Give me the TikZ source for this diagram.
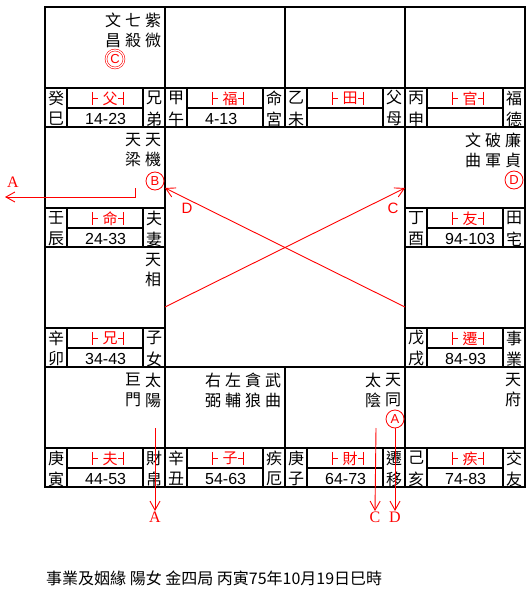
\documentclass[tikz,border=0pt]{standalone}
\usepackage{fontspec}
\setmainfont{Liberation Sans}
\newfontfamily\cjk{Noto Sans CJK TC}
\newfontfamily\latinserif{Liberation Serif}
\usetikzlibrary{arrows.meta,positioning,calc}
\definecolor{chartred}{RGB}{255,0,0}

\begin{document}
\begin{tikzpicture}[x=1pt, y=-1pt,
    gridline/.style={line width=2.6pt, line cap=rect},
    infoline/.style={line width=2pt},
    cjktext/.style={font=\cjk\fontsize{16}{16}\selectfont, inner sep=0pt},
    stars/.style={font=\cjk\fontsize{16}{20}\selectfont, align=center, anchor=north, inner sep=0pt},
    palname/.style={font=\cjk\fontsize{15}{15}\selectfont, text=chartred, inner sep=0pt},
    palbar/.style={draw=chartred, line width=1pt},
    agetext/.style={font=\fontsize{16}{16}\selectfont, anchor=west, inner sep=0pt},
    circled/.style={circle, draw=chartred, line width=0.8pt, text=chartred,
        minimum size=18pt, inner sep=0pt, font=\fontsize{13}{13}\selectfont},
    tagline/.style={draw=chartred, line width=0.9pt, -{Straight Barb[length=9pt, width=10pt]}},
    tagserif/.style={font=\latinserif\fontsize{16}{16}\selectfont, text=chartred, inner sep=1pt, anchor=north},
    tagsans/.style={font=\fontsize{15}{15}\selectfont, text=chartred, inner sep=0pt}
]
    \useasboundingbox (0,0) rectangle (531,599);

    % palace grid
    \draw[gridline] (45,7) rectangle (525,487);
    \draw[gridline] (165,7) -- (165,487);
    \draw[gridline] (405,7) -- (405,487);
    \draw[gridline] (285,7) -- (285,127);
    \draw[gridline] (285,367) -- (285,487);
    \draw[gridline] (45,127) -- (525,127);
    \draw[gridline] (45,367) -- (525,367);
    \draw[gridline] (45,247) -- (165,247);
    \draw[gridline] (405,247) -- (525,247);

    % bottom strip of each palace
    \foreach \cx/\cy/\stem/\branch/\pal/\age/\pa/\pb/\id in {
        45/7/癸/巳/父/14-23/兄/弟/si, 165/7/甲/午/福/4-13/命/宮/wu,
        285/7/乙/未/田//父/母/wei, 405/7/丙/申/官//福/德/shen,
        45/127/壬/辰/命/24-33/夫/妻/chen, 405/127/丁/酉/友/94-103/田/宅/you,
        45/247/辛/卯/兄/34-43/子/女/mao, 405/247/戊/戌/遷/84-93/事/業/xu,
        45/367/庚/寅/夫/44-53/財/帛/yin, 165/367/辛/丑/子/54-63/疾/厄/chou,
        285/367/庚/子/財/64-73/遷/移/zi, 405/367/己/亥/疾/74-83/交/友/hai} {
        \draw[infoline] (\cx,\cy+81) -- (\cx+120,\cy+81);
        \draw[infoline] (\cx+22,\cy+81) -- (\cx+22,\cy+120);
        \draw[infoline] (\cx+98,\cy+81) -- (\cx+98,\cy+120);
        \draw[infoline] (\cx+22,\cy+101) -- (\cx+98,\cy+101);
        \node[cjktext] (\id-stem) at (\cx+11,\cy+91) {\stem};
        \node[cjktext] (\id-branch) at (\cx+11,\cy+112) {\branch};
        \node[palname] (\id-pal) at (\cx+65,\cy+91.5) {\pal};
        \draw[palbar] (\cx+47,\cy+85) -- (\cx+47,\cy+98) (\cx+47,\cy+91.5) -- (\cx+53,\cy+91.5);
        \draw[palbar] (\cx+78,\cy+85) -- (\cx+78,\cy+98) (\cx+78,\cy+91.5) -- (\cx+73,\cy+91.5);
        \node[agetext] (\id-age) at (\cx+40,\cy+111.5) {\age};
        \node[cjktext] (\id-pa) at (\cx+109,\cy+91) {\pa};
        \node[cjktext] (\id-pb) at (\cx+109,\cy+112) {\pb};
    }

    % stars
    \node[stars] (ziwei) at (153,13) {紫\\微};
    \node[stars] (qisha) at (133,13) {七\\殺};
    \node[stars] (wenchang) at (113,13) {文\\昌};
    \node[circled, double=white, double distance=1.2pt, line width=0.6pt] (circC) at (115,59) {C};

    \node[stars] (tianji) at (153,133) {天\\機};
    \node[stars] (tianliang) at (133,133) {天\\梁};
    \node[circled] (circB) at (155,181) {B};

    \node[stars] (lianzhen) at (513,133) {廉\\貞};
    \node[stars] (pojun) at (493,133) {破\\軍};
    \node[stars] (wenqu) at (473,133) {文\\曲};
    \node[circled] (circD) at (514,180) {D};

    \node[stars] (tianxiang) at (153,253) {天\\相};

    \node[stars] (taiyang) at (153,373) {太\\陽};
    \node[stars] (jumen) at (133,373) {巨\\門};

    \node[stars] (wuqu) at (273,373) {武\\曲};
    \node[stars] (tanlang) at (253,373) {貪\\狼};
    \node[stars] (zuofu) at (233,373) {左\\輔};
    \node[stars] (youbi) at (213,373) {右\\弼};

    \node[stars] (tiantong) at (393,373) {天\\同};
    \node[stars] (taiyin) at (373,373) {太\\陰};
    \node[circled] (circA) at (395,419) {A};

    \node[stars] (tianfu) at (513,373) {天\\府};

    % transformation arrows
    \coordinate (liangFoot) at (135,188);
    \coordinate (tipA1) at (5,197);
    \node[tagserif, anchor=center] (lblA1) at (13,182) {A};
    \draw[tagline] (liangFoot) |- (tipA1);

    \coordinate (xiangEdge) at (165,307);
    \coordinate (qianEdge) at (405,307);
    \coordinate (tipC) at (405,188);
    \coordinate (tipD) at (165,188);
    \draw[tagline] (xiangEdge) -- (tipC);
    \draw[tagline] (qianEdge) -- (tipD);
    \node[tagsans] (lblC1) at (393,208) {C};
    \node[tagsans] (lblD1) at (187,208) {D};

    \coordinate (yangFoot) at (155,428);
    \coordinate (yinFoot) at (376,428);
    \node[tagserif] (lblA2) at (155,511) {A};
    \node[tagserif] (lblC2) at (375,511) {C};
    \node[tagserif] (lblD2) at (395,511) {D};
    \draw[tagline] (yangFoot) -- (lblA2.north);
    \draw[tagline] (yinFoot) -- (lblC2.north);
    \draw[tagline] (circA.south) -- (lblD2.north);

    \node[cjktext, anchor=west] (caption) at (46,578) {事業及姻緣 陽女 金四局 丙寅75年10月19日巳時};
\end{tikzpicture}
\end{document}
